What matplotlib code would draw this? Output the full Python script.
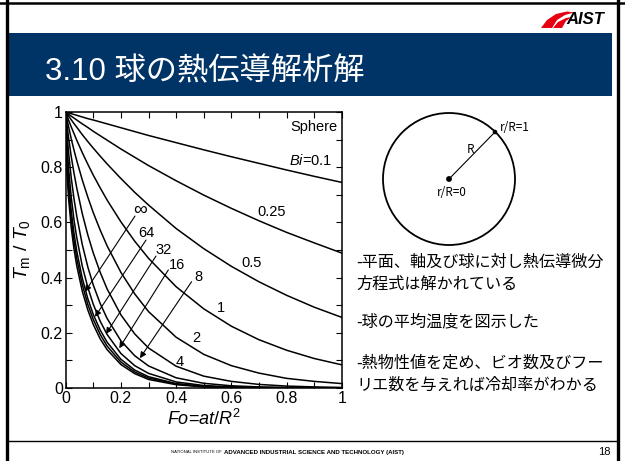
import matplotlib
matplotlib.use('Agg')
import matplotlib.pyplot as plt
from matplotlib.patches import Rectangle, Circle, Polygon

plt.rcParams['font.family'] = ['Liberation Sans', 'DejaVu Sans']
plt.rcParams['mathtext.fontset'] = 'custom'
plt.rcParams['mathtext.rm'] = 'Liberation Sans'
plt.rcParams['mathtext.it'] = 'Liberation Sans:italic'
JP = ['Noto Sans CJK JP', 'DejaVu Sans']
TITLE_FONT = ['Liberation Sans', 'Noto Sans CJK JP']

# mean temperature Tm/T0 of a sphere against Fo, one list per Biot number
fo = [0, 0.005, 0.01, 0.02, 0.03, 0.04, 0.06, 0.08, 0.1, 0.125, 0.15,
      0.2, 0.25, 0.3, 0.4, 0.5, 0.6, 0.7, 0.8, 0.9, 1.0]
tm_bi_01 = [1.0, 0.9985, 0.997, 0.994, 0.991, 0.988, 0.982, 0.976, 0.971, 0.964, 0.957,
            0.943, 0.929, 0.915, 0.889, 0.863, 0.838, 0.814, 0.790, 0.767, 0.745]
tm_bi_025 = [1.0, 0.996, 0.992, 0.985, 0.978, 0.971, 0.957, 0.944, 0.930, 0.914, 0.898,
             0.866, 0.836, 0.806, 0.751, 0.699, 0.651, 0.606, 0.564, 0.526, 0.489]
tm_bi_05 = [1.0, 0.993, 0.986, 0.972, 0.958, 0.945, 0.918, 0.893, 0.869, 0.840, 0.812,
            0.759, 0.709, 0.663, 0.578, 0.505, 0.441, 0.385, 0.336, 0.293, 0.256]
tm_bi_1 = [1.0, 0.986, 0.972, 0.946, 0.922, 0.898, 0.853, 0.811, 0.771, 0.725, 0.681,
           0.602, 0.532, 0.470, 0.367, 0.287, 0.224, 0.175, 0.137, 0.107, 0.084]
tm_bi_2 = [1.0, 0.973, 0.949, 0.903, 0.862, 0.824, 0.754, 0.692, 0.635, 0.572, 0.515,
           0.419, 0.341, 0.277, 0.184, 0.122, 0.081, 0.054, 0.035, 0.024, 0.016]
tm_bi_4 = [1.0, 0.951, 0.910, 0.839, 0.779, 0.725, 0.632, 0.555, 0.489, 0.419, 0.359,
           0.265, 0.196, 0.145, 0.079, 0.043, 0.024, 0.013, 0.007, 0.004, 0.002]
tm_bi_8 = [1.0, 0.918, 0.858, 0.762, 0.686, 0.623, 0.520, 0.439, 0.373, 0.306, 0.252,
           0.171, 0.117, 0.080, 0.037, 0.017, 0.008, 0.004, 0.002, 0.001, 0.0]
tm_bi_16 = [1.0, 0.878, 0.801, 0.692, 0.610, 0.545, 0.442, 0.365, 0.303, 0.242, 0.194,
            0.125, 0.081, 0.053, 0.022, 0.009, 0.004, 0.002, 0.001, 0.0, 0.0]
tm_bi_32 = [1.0, 0.839, 0.756, 0.642, 0.561, 0.496, 0.398, 0.324, 0.266, 0.210, 0.166,
            0.104, 0.065, 0.041, 0.016, 0.006, 0.003, 0.001, 0.0, 0.0, 0.0]
tm_bi_64 = [1.0, 0.811, 0.726, 0.613, 0.533, 0.470, 0.375, 0.303, 0.248, 0.194, 0.152,
            0.094, 0.058, 0.036, 0.014, 0.005, 0.002, 0.001, 0.0, 0.0, 0.0]
tm_bi_inf = [1.0, 0.776, 0.692, 0.581, 0.504, 0.443, 0.351, 0.283, 0.230, 0.178, 0.139,
             0.085, 0.052, 0.031, 0.012, 0.004, 0.002, 0.001, 0.0, 0.0, 0.0]
series = [tm_bi_01, tm_bi_025, tm_bi_05, tm_bi_1, tm_bi_2, tm_bi_4,
          tm_bi_8, tm_bi_16, tm_bi_32, tm_bi_64, tm_bi_inf]

# labels written beside the small-Bi curves (text, Fo, Tm)
side_labels = [('$Bi$=0.1', 0.81, 0.826), ('0.25', 0.746, 0.639), ('0.5', 0.673, 0.454),
               ('1', 0.561, 0.289), ('2', 0.474, 0.180), ('4', 0.414, 0.095)]
# labels with arrows for the large-Bi curves: text, label pos, arrow start, arrow tip
arrow_labels = ['∞', '64', '32', '16', '8']
arrow_text_pos = [(0.269, 0.645), (0.293, 0.560), (0.354, 0.500), (0.402, 0.446), (0.480, 0.403)]
arrow_start = [(0.251, 0.623), (0.291, 0.536), (0.327, 0.478), (0.372, 0.428), (0.456, 0.385)]
arrow_tip = [(0.070, 0.349), (0.106, 0.258), (0.146, 0.196), (0.194, 0.144), (0.269, 0.108)]

tick_vals = [0, 0.2, 0.4, 0.6, 0.8, 1]
tick_text = ['0', '0.2', '0.4', '0.6', '0.8', '1']

bullets = ['-平面、軸及び球に対し熱伝導微分', '方程式は解かれている',
           '-球の平均温度を図示した',
           '-熱物性値を定め、ビオ数及びフー', 'リエ数を与えれば冷却率がわかる']
bullet_y = [262, 284, 322, 363, 385]

fig = plt.figure(figsize=(6.25, 4.61), dpi=100)

# slide background drawn in pixel units
bg = fig.add_axes([0, 0, 1, 1])
bg.set_xlim(0, 625)
bg.set_ylim(461, 0)
bg.axis('off')
bg.plot([6.5, 6.5], [0, 461], color='k', lw=2.4)
bg.plot([617.5, 617.5], [0, 461], color='k', lw=2.4)
bg.plot([0, 625], [3, 3], color='k', lw=1.8)
bg.plot([7, 617], [441, 441], color='k', lw=1.0)
bg.add_patch(Rectangle((8, 33), 604, 63, color='#003366', lw=0))
bg.text(45, 72, '3.10 球の熱伝導解析解', color='white', fontsize=22.5, family=TITLE_FONT,
        va='center', ha='left')

# AIST mark
bg.add_patch(Polygon([(541, 28), (547, 20), (556, 14), (567, 11.5), (574, 12.5),
                      (565, 15), (557, 20), (552, 28)], color='#e60012', lw=0))
bg.add_patch(Polygon([(553, 28), (558, 22), (566, 18), (572, 17), (566, 21),
                      (562, 28)], color='#e60012', lw=0))
bg.text(566, 20, 'AIST', fontsize=12, fontweight='bold', fontstyle='italic',
        va='center', ha='left')

# footer
bg.text(222, 452, 'NATIONAL INSTITUTE OF', fontsize=3, ha='right', va='center')
bg.text(224, 452, 'ADVANCED INDUSTRIAL SCIENCE AND TECHNOLOGY (AIST)', fontsize=4.4,
        fontweight='bold', ha='left', va='center')
bg.text(611, 452, '18', fontsize=8, ha='right', va='center')

# sphere sketch
bg.add_patch(Circle((449, 179), 66, fill=False, lw=1.3, color='k'))
bg.plot([449, 495], [179, 132], color='k', lw=0.8)
bg.add_patch(Circle((449, 179), 2.2, color='k'))
bg.add_patch(Circle((495, 132), 1.6, color='k'))
bg.text(500, 127, 'r/R=1', fontsize=8.5, family=JP, va='center', ha='left')
bg.text(470, 149, 'R', fontsize=8.5, family=JP, va='center', ha='center')
bg.text(452, 192, 'r/R=0', fontsize=8.5, family=JP, va='center', ha='center')

for line, y in zip(bullets, bullet_y):
    bg.text(356, y, line, fontsize=11.6, family=JP, va='center', ha='left')

# chart
ax = fig.add_axes([65.7 / 625, 1 - 388 / 461, 276 / 625, 276 / 461])
for tm in series:
    ax.plot(fo, tm, color='k', lw=1.1)

ax.set_xlim(0, 1)
ax.set_ylim(0, 1)
ax.set_xticks(tick_vals)
ax.set_xticklabels(tick_text)
ax.set_yticks(tick_vals)
ax.set_yticklabels(tick_text)
ax.set_xticks([0.1, 0.3, 0.5, 0.7, 0.9], minor=True)
ax.set_yticks([0.1, 0.3, 0.5, 0.7, 0.9], minor=True)
ax.tick_params(which='both', direction='in', top=True, right=True, length=4,
               width=0.8, labelsize=11.5, pad=2)
for sp in ax.spines.values():
    sp.set_linewidth(1.1)

ax.set_xlabel('$Fo$=$at$/$R^2$', fontsize=13, labelpad=2)
ax.set_ylabel('$T_\\mathrm{m}$ / $T_0$', fontsize=14, labelpad=6)

ax.text(0.985, 0.947, 'Sphere', fontsize=10.5, ha='right', va='center')
for txt, x, y in side_labels:
    ax.text(x, y, txt, fontsize=10.5, ha='left' if txt.startswith('$') else 'center',
            va='center')
for txt, pos, a0, a1 in zip(arrow_labels, arrow_text_pos, arrow_start, arrow_tip):
    ax.text(pos[0], pos[1], txt, fontsize=14 if txt == '∞' else 10.5,
            ha='center', va='center')
    ax.annotate('', xy=a1, xytext=a0,
                arrowprops=dict(arrowstyle='-|>', color='k', lw=0.8,
                                mutation_scale=9, shrinkA=0, shrinkB=0))

fig.savefig('out.png', dpi=100)
